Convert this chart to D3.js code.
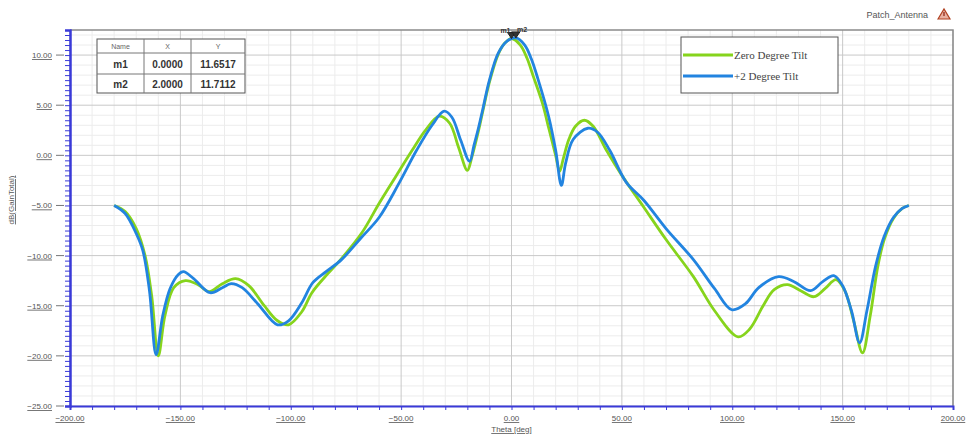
<!DOCTYPE html>
<html>
<head>
<meta charset="utf-8">
<script src="https://cdn.jsdelivr.net/npm/d3@7"></script>
<style>
  body { margin: 0; background: #fff; }
  svg { display: block; font-family: Arial, "Liberation Sans", sans-serif; }
</style>
</head>
<body>
<div id="root"></div>
<script>
'use strict';

var width = 969;
var height = 436;
var margin = { left: 70, right: 16, top: 30, bottom: 30 };

var xTicks = [-200, -150, -100, -50, 0, 50, 100, 150, 200];
var yTicks = [-25, -20, -15, -10, -5, 0, 5, 10];

// Zero Degree Tilt
var zeroTheta = [-180, -175, -170, -166, -163, -160, -157, -153, -147.7, -142, -137, -131, -125, -119, -112, -106, -101, -95, -90.4, -84, -77.4, -67.7, -60, -52.4, -45, -39, -32.7, -28, -24, -20, -18, -15, -13, -10, -6, -3, 0, 4, 7, 10, 14, 17, 20, 21.8, 23.5, 26, 29, 33, 37, 43, 50, 59.7, 70, 82.4, 92, 102.7, 108, 114, 119, 125, 131, 137, 142, 147, 151, 155, 159, 162.5, 166, 169, 173, 177, 180];
var zeroGain = [-5.0, -5.6, -7.3, -10.0, -14.0, -20.0, -16.0, -13.2, -12.5, -12.9, -13.6, -12.8, -12.3, -13.0, -15.0, -16.5, -16.9, -15.6, -13.7, -12.0, -10.4, -7.7, -4.8, -2.1, 0.5, 2.5, 3.9, 3.2, 0.8, -1.5, -0.2, 2.4, 4.4, 7.3, 10.1, 11.2, 11.65, 11.0, 9.7, 7.8, 5.2, 2.6, 0.0, -1.6, -0.3, 1.6, 2.9, 3.5, 2.9, 0.5, -2.0, -5.1, -8.4, -12.1, -15.5, -18.1, -17.3, -15.0, -13.4, -12.9, -13.5, -14.1, -13.3, -12.4, -13.5, -16.5, -19.7, -16.0, -11.0, -8.3, -6.3, -5.3, -5.0];

// +2 Degree Tilt
var tiltTheta = [-180, -175, -170, -167, -164, -161, -158, -154.7, -151, -148.6, -144, -136.5, -131, -127, -122, -115, -106, -101, -95, -90, -84, -77, -68, -60, -51, -43, -36, -30.5, -27, -23, -19, -17, -15, -13, -10, -6, -2, 2, 6, 9, 12, 16.8, 20, 22.6, 24.5, 28, 34.6, 39, 44.5, 52, 60, 70, 82.4, 92, 99.8, 106, 112, 121, 128, 135.5, 141, 146, 150, 154, 157.7, 161, 165, 168.8, 173, 177, 180];
var tiltGain = [-5.0, -5.8, -7.8, -9.5, -13.5, -19.9, -16.0, -13.3, -11.9, -11.6, -12.3, -13.7, -13.2, -12.8, -13.2, -14.8, -16.9, -16.5, -14.7, -12.7, -11.6, -10.4, -8.2, -6.2, -2.8, 0.5, 3.0, 4.4, 3.8, 1.5, -0.6, 1.0, 2.7, 4.6, 7.5, 10.2, 11.4, 11.71, 11.0, 9.6, 7.6, 3.9, 0.5, -3.0, -0.8, 1.6, 2.7, 2.3, 0.5, -2.7, -4.5, -7.3, -10.4, -13.3, -15.4, -14.8, -13.2, -12.1, -12.6, -13.5, -12.6, -12.0, -13.0, -15.5, -18.7, -15.5, -11.0, -8.1, -6.2, -5.3, -5.0];

var markerNames = ['m1', 'm2'];
var markerX = [0, 2];
var markerY = [11.6517, 11.7112];

var seriesNames = ['Zero Degree Tilt', '+2 Degree Tilt'];
var seriesColors = ['#86d41c', '#2284e0'];

var series = [
  zeroTheta.map((t, i) => ({ x: t, y: zeroGain[i] })),
  tiltTheta.map((t, i) => ({ x: t, y: tiltGain[i] }))
];

var x = d3.scaleLinear().domain([-200, 200]).range([margin.left, width - margin.right]);
var y = d3.scaleLinear().domain([-25, 12.5]).range([height - margin.bottom, margin.top]);

var svg = d3.select('#root').append('svg')
  .attr('width', width)
  .attr('height', height);

// grid
var minorX = d3.range(-200, 201, 10).filter(v => v % 50 !== 0);
var minorY = d3.range(-25, 12.6, 1).filter(v => v % 5 !== 0);

svg.append('g').selectAll('line')
  .data(minorX).join('line')
  .attr('x1', d => x(d)).attr('x2', d => x(d))
  .attr('y1', y(12.5)).attr('y2', y(-25))
  .attr('stroke', '#ececec');

svg.append('g').selectAll('line')
  .data(minorY).join('line')
  .attr('x1', x(-200)).attr('x2', x(200))
  .attr('y1', d => y(d)).attr('y2', d => y(d))
  .attr('stroke', '#ececec');

svg.append('g').selectAll('line')
  .data(xTicks).join('line')
  .attr('x1', d => x(d)).attr('x2', d => x(d))
  .attr('y1', y(12.5)).attr('y2', y(-25))
  .attr('stroke', '#c9c9c9');

svg.append('g').selectAll('line')
  .data(yTicks).join('line')
  .attr('x1', x(-200)).attr('x2', x(200))
  .attr('y1', d => y(d)).attr('y2', d => y(d))
  .attr('stroke', '#c9c9c9');

// frame (top & right)
svg.append('path')
  .attr('d', `M${x(-200)},${y(12.5)}H${x(200)}V${y(-25)}`)
  .attr('fill', 'none')
  .attr('stroke', '#8a8a8a')
  .attr('stroke-width', 1.5);

// y axis
var yAxis = d3.axisLeft(y).tickValues(d3.range(-25, 12.6, 0.5)).tickSize(5).tickFormat('');
var gy = svg.append('g').attr('transform', `translate(${x(-200)},0)`).call(yAxis);
gy.selectAll('line').attr('stroke', '#3a3ad8');
gy.select('.domain').attr('stroke', '#3a3ad8').attr('stroke-width', 2.5);

svg.append('g').selectAll('line')
  .data(yTicks).join('line')
  .attr('x1', 56).attr('x2', 64)
  .attr('y1', d => y(d)).attr('y2', d => y(d))
  .attr('stroke', '#777');

svg.append('g').selectAll('text')
  .data(yTicks).join('text')
  .attr('x', 52).attr('y', d => y(d) + 3)
  .attr('text-anchor', 'end')
  .attr('font-size', 8)
  .attr('fill', '#555')
  .attr('text-decoration', 'underline')
  .text(d => d3.format('.2f')(d));

// x axis
var xAxis = d3.axisBottom(x).tickValues(d3.range(-200, 201, 10)).tickSize(4).tickFormat('');
var gx = svg.append('g').attr('transform', `translate(0,${y(-25)})`).call(xAxis);
gx.selectAll('line').attr('stroke', '#3a3ad8');
gx.select('.domain').attr('stroke', '#3a3ad8').attr('stroke-width', 2);

svg.append('g').selectAll('text')
  .data(xTicks).join('text')
  .attr('x', d => x(d)).attr('y', 421)
  .attr('text-anchor', 'middle')
  .attr('font-size', 8)
  .attr('fill', '#555')
  .attr('text-decoration', 'underline')
  .text(d => d3.format('.2f')(d));

svg.append('text')
  .attr('x', x(0)).attr('y', 432)
  .attr('text-anchor', 'middle')
  .attr('font-size', 8)
  .attr('fill', '#555')
  .attr('text-decoration', 'underline')
  .text('Theta [deg]');

svg.append('text')
  .attr('transform', 'translate(14,200) rotate(-90)')
  .attr('text-anchor', 'middle')
  .attr('font-size', 8)
  .attr('fill', '#555')
  .attr('text-decoration', 'underline')
  .text('dB(GainTotal)');

// curves
var line = d3.line()
  .x(d => x(d.x))
  .y(d => y(d.y))
  .curve(d3.curveCatmullRom.alpha(0.5));

svg.append('g').selectAll('path')
  .data(series).join('path')
  .attr('d', line)
  .attr('fill', 'none')
  .attr('stroke', (d, i) => seriesColors[i])
  .attr('stroke-width', 2.8)
  .attr('stroke-linejoin', 'round');

// markers
var mk = svg.append('g');
markerNames.forEach((m, i) => {
  var mx = x(markerX[i]);
  var my = y(markerY[i]);
  mk.append('path')
    .attr('d', `M${mx - 4},${my - 6}H${mx + 4}L${mx},${my}Z`)
    .attr('fill', '#333')
    .attr('stroke', '#222');
  mk.append('text')
    .attr('x', i === 0 ? mx - 1 : mx + 1).attr('y', my - 6)
    .attr('text-anchor', i === 0 ? 'end' : 'start')
    .attr('font-size', 7)
    .attr('font-weight', 'bold')
    .attr('fill', '#333')
    .text(m);
});

// marker table
var tbl = svg.append('g').attr('transform', 'translate(97,39)');
var colX = [0, 47, 94, 148];
var rowY = [0, 14, 35, 54];
tbl.append('rect')
  .attr('width', colX[3]).attr('height', rowY[3])
  .attr('fill', '#fff').attr('stroke', '#555');
tbl.selectAll('line.c').data(colX.slice(1, 3)).join('line')
  .attr('x1', d => d).attr('x2', d => d).attr('y1', 0).attr('y2', rowY[3])
  .attr('stroke', '#777');
tbl.selectAll('line.r').data(rowY.slice(1, 3)).join('line')
  .attr('x1', 0).attr('x2', colX[3]).attr('y1', d => d).attr('y2', d => d)
  .attr('stroke', '#777');
['Name', 'X', 'Y'].forEach((h, j) => {
  tbl.append('text')
    .attr('x', (colX[j] + colX[j + 1]) / 2).attr('y', 10)
    .attr('text-anchor', 'middle').attr('font-size', 7).attr('fill', '#666')
    .text(h);
});
markerNames.forEach((m, i) => {
  var cells = [m, d3.format('.4f')(markerX[i]), d3.format('.4f')(markerY[i])];
  cells.forEach((c, j) => {
    tbl.append('text')
      .attr('x', (colX[j] + colX[j + 1]) / 2).attr('y', (rowY[i + 1] + rowY[i + 2]) / 2 + 4)
      .attr('text-anchor', 'middle').attr('font-size', 10).attr('font-weight', 'bold')
      .attr('fill', '#333')
      .text(c);
  });
});

// legend
var lg = svg.append('g').attr('transform', 'translate(681,37)');
lg.append('rect').attr('width', 157).attr('height', 56)
  .attr('fill', '#fff').attr('stroke', '#555');
seriesNames.forEach((s, i) => {
  lg.append('line')
    .attr('x1', 2).attr('x2', 52)
    .attr('y1', 18 + i * 21).attr('y2', 18 + i * 21)
    .attr('stroke', seriesColors[i]).attr('stroke-width', 3);
  lg.append('text')
    .attr('x', 53).attr('y', 22 + i * 21)
    .attr('font-family', '"Liberation Serif", "DejaVu Serif", serif')
    .attr('font-size', 11).attr('fill', '#444')
    .text(s);
});

// project label
svg.append('text')
  .attr('x', 928).attr('y', 18)
  .attr('text-anchor', 'end')
  .attr('font-size', 9).attr('fill', '#555')
  .text('Patch_Antenna');
svg.append('path')
  .attr('d', 'M938,19L944,9L950,19Z')
  .attr('fill', '#e8b0a0').attr('stroke', '#b04020').attr('stroke-width', 1.2);
svg.append('line')
  .attr('x1', 944).attr('x2', 944).attr('y1', 12).attr('y2', 16)
  .attr('stroke', '#8a2010').attr('stroke-width', 1.2);
</script>
</body>
</html>
